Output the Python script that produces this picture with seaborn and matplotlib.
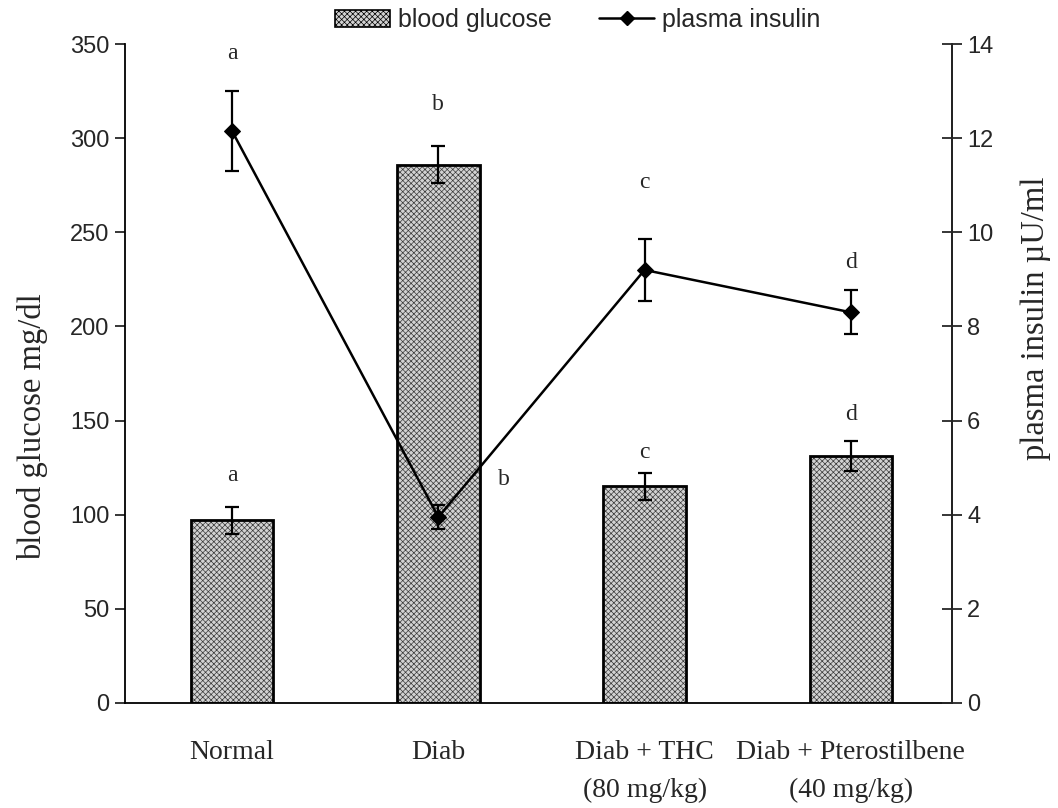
import numpy as np
import pandas as pd
import matplotlib
matplotlib.use("Agg")
import matplotlib.pyplot as plt
import seaborn as sns
from matplotlib.patches import Patch
from matplotlib.lines import Line2D

# ---- data ----
categories = ["Normal", "Diab", "Diab + THC\n(80 mg/kg)", "Diab + Pterostilbene\n(40 mg/kg)"]
glucose = [97, 286, 115, 131]
glucose_err = [7, 10, 7, 8]
glucose_letters = ["a", "b", "c", "d"]
insulin = [12.15, 3.95, 9.2, 8.3]
insulin_err = [0.85, 0.25, 0.65, 0.47]
insulin_letters = ["a", "b", "c", "d"]

sns.set_style("white")
plt.rcParams["font.family"] = ["Liberation Sans", "DejaVu Sans"]
plt.rcParams["hatch.linewidth"] = 0.5
SERIF = ["Liberation Serif", "DejaVu Serif"]
HATCH = "xxxxxx"
FACE = "#d2d2d2"

fig = plt.figure(figsize=(10.58, 8.08), dpi=100)
ax = fig.add_axes([0.118, 0.130, 0.7817, 0.8155])

df = pd.DataFrame({"group": categories, "glucose": glucose})
sns.barplot(data=df, x="group", y="glucose", ax=ax, width=0.4,
            color=FACE, edgecolor="#3a3a3a", linewidth=0,
            hatch=HATCH, errorbar=None, saturation=1)
sns.barplot(data=df, x="group", y="glucose", ax=ax, width=0.4,
            fill=False, edgecolor="black", linewidth=2, errorbar=None)
pos = np.arange(len(categories))
ax.errorbar(pos, glucose, yerr=glucose_err, fmt="none", ecolor="black",
            elinewidth=1.6, capsize=5, capthick=1.6, zorder=5)

ax.set_xlim(-0.52, 3.49)
ax.set_ylim(0, 350)
ax.set_yticks(np.arange(0, 351, 50))
ax.set_xlabel("")
ax.set_ylabel("blood glucose mg/dl", family=SERIF, fontsize=23.5)
ax.yaxis.set_label_coords(-0.093, 0.42)
ax.tick_params(axis="y", direction="out", length=7, width=1.3, left=True,
               labelsize=17, pad=4)
ax.tick_params(axis="x", length=0, pad=27)
for lbl in ax.get_xticklabels():
    lbl.set_fontfamily(SERIF)
    lbl.set_fontsize(20)
    lbl.set_linespacing(1.65)
ax.spines["top"].set_visible(False)
for s in ["left", "bottom", "right"]:
    ax.spines[s].set_linewidth(1.3)
    ax.spines[s].set_color("black")

ax2 = ax.twinx()
sns.lineplot(x=pos, y=insulin, ax=ax2, color="black", linewidth=1.8,
             marker="D", markersize=8, markeredgecolor="black", zorder=6)
ax2.errorbar(pos, insulin, yerr=insulin_err, fmt="none", ecolor="black",
             elinewidth=1.6, capsize=5, capthick=1.6, zorder=5)
ax2.set_ylim(0, 14)
ax2.set_yticks(np.arange(0, 15, 2))
ax2.set_ylabel("plasma insulin µU/ml", family=SERIF, fontsize=23.5, rotation=90)
ax2.yaxis.set_label_coords(1.083, 0.584)
ax2.tick_params(axis="y", direction="inout", length=14, width=1.3, right=True,
                labelsize=17, pad=4)
for s in ["top", "left", "bottom"]:
    ax2.spines[s].set_visible(False)
ax2.spines["right"].set_linewidth(1.3)

# significance letters
g_letter_y = [121, 318, 133, 153]
for x, t, yv in zip(pos, glucose_letters, g_letter_y):
    ax.text(x, yv, t, ha="center", va="center", family=SERIF, fontsize=17)
i_letter_y = [13.8, 4.75, 11.05, 9.35]
i_letter_dx = [0, 0.32, 0, 0]
for x, t, yv, dx in zip(pos, insulin_letters, i_letter_y, i_letter_dx):
    ax2.text(x + dx, yv, t, ha="center", va="center", family=SERIF, fontsize=17)

handles = [Patch(facecolor=FACE, edgecolor="black", hatch=HATCH, linewidth=1.2),
           Line2D([0], [0], color="black", lw=1.8, marker="D", markersize=7)]
fig.legend(handles, ["blood glucose", "plasma insulin"], loc="upper center",
           bbox_to_anchor=(0.546, 1.018), ncol=2, frameon=False, fontsize=18,
           handlelength=2.2, handleheight=0.65, columnspacing=1.9, handletextpad=0.3)

fig.savefig("out.png", dpi=100)
